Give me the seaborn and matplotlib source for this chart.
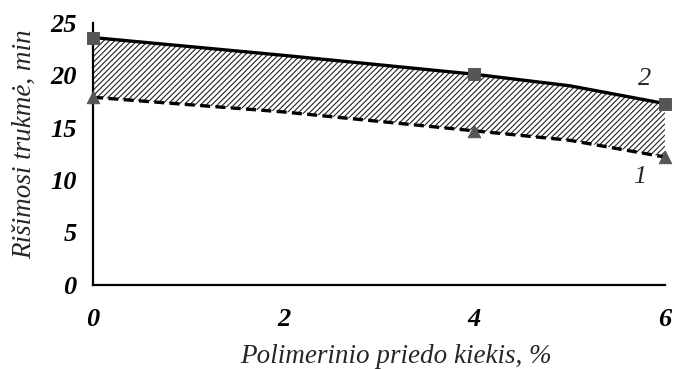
import numpy as np
import pandas as pd
import matplotlib
matplotlib.use("Agg")
import matplotlib.pyplot as plt
import seaborn as sns

# data
x_curve = [0, 2, 4, 5, 6]
curve2 = [23.6, 21.9, 20.1, 19.0, 17.3]
curve1 = [17.9, 16.5, 14.7, 13.8, 12.2]
x_marks = [0, 4, 6]
marks2 = [23.6, 20.1, 17.3]
marks1 = [17.9, 14.7, 12.2]
xticks = [0, 2, 4, 6]
yticks = [0, 5, 10, 15, 20, 25]

sns.set_theme(style="white")
plt.rcParams['font.family'] = ['Liberation Serif', 'DejaVu Serif']
plt.rcParams['hatch.linewidth'] = 0.8

fig = plt.figure(figsize=(6.75, 3.69), dpi=100)
ax = fig.add_axes([0.138, 0.228, 0.847, 0.71])

df = pd.DataFrame({"x": x_curve, "c2": curve2, "c1": curve1})
ax.fill_between(df["x"], df["c1"], df["c2"], facecolor="white", edgecolor="#222222",
                hatch="//////", linewidth=0, zorder=1)
sns.lineplot(data=df, x="x", y="c2", ax=ax, color="black", linewidth=2.4, zorder=3)
sns.lineplot(data=df, x="x", y="c1", ax=ax, color="black", linewidth=2.4,
             linestyle=(0, (3, 1.6)), zorder=3)
dm = pd.DataFrame({"x": x_marks, "m2": marks2, "m1": marks1})
sns.scatterplot(data=dm, x="x", y="m2", ax=ax, marker="s", s=70, color="#555555",
                edgecolor="#555555", zorder=4, clip_on=False)
sns.scatterplot(data=dm, x="x", y="m1", ax=ax, marker="^", s=80, color="#555555",
                edgecolor="#555555", zorder=4, clip_on=False)

ax.set_xlim(0, 6)
ax.set_ylim(0, 25)
ax.set_xticks(xticks)
ax.set_yticks(yticks)
for s in ["top", "right"]:
    ax.spines[s].set_visible(False)
for s in ["left", "bottom"]:
    ax.spines[s].set_color("black")
    ax.spines[s].set_linewidth(1.6)
ax.tick_params(axis="both", direction="out", length=4, width=1.4, colors="black",
               labelsize=19)
ax.tick_params(axis="x", pad=13)
ax.tick_params(axis="y", pad=8)
for lab in ax.get_xticklabels() + ax.get_yticklabels():
    lab.set_fontstyle("italic")
    lab.set_fontweight("bold")

ax.set_xlabel("Polimerinio priedo kiekis, %", fontsize=19.5, fontstyle="italic")
ax.set_ylabel("Rišimosi trukmė, min", fontsize=19.5, fontstyle="italic")
ax.xaxis.set_label_coords(0.53, -0.275)
ax.xaxis.label.set_va("center")
ax.yaxis.set_label_coords(-0.12, 0.538)
ax.yaxis.label.set_va("center")

ax.text(5.79, 19.6, "2", fontsize=19, fontstyle="italic", ha="center", va="center")
ax.text(5.74, 10.3, "1", fontsize=19, fontstyle="italic", ha="center", va="center")

fig.savefig("out.png", dpi=100, facecolor="white")
